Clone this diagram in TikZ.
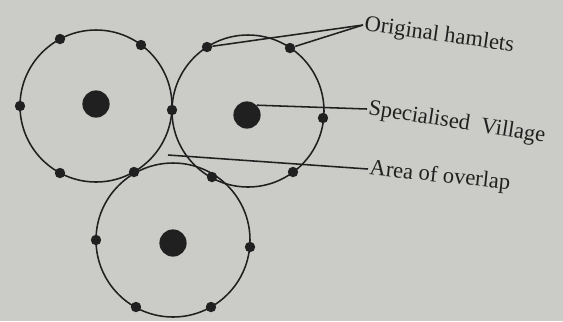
\documentclass[tikz,border=0pt]{standalone}
\usepackage{fontspec}
\setmainfont{Liberation Serif}
\definecolor{PaperGrey}{RGB}{203,203,199}
\definecolor{InkDark}{RGB}{32,32,32}

\begin{document}
\begin{tikzpicture}[x=0.25mm,y=-0.25mm,
  ring/.style={draw=InkDark,line width=1.1pt},
  hamlet/.style={circle,fill=InkDark,inner sep=0pt,minimum size=2.6mm},
  village/.style={circle,fill=InkDark,inner sep=0pt,minimum size=6.8mm},
  leader/.style={draw=InkDark,line width=1.1pt},
  tag/.style={font=\fontsize{16}{19}\selectfont,text=InkDark,inner sep=1pt,anchor=west}]
  % paper
  \path[fill=PaperGrey] (0,0) rectangle (563,321);
  % specialised villages
  \node[village] (vA) at (96,104) {};
  \node[village] (vB) at (247,115) {};
  \node[village] (vC) at (173,243) {};
  % market areas
  \draw[ring] (96,106) circle (76);
  \draw[ring] (248,111) circle (76);
  \draw[ring] (173,240) circle (77);
  % hamlets on the rings
  \node[hamlet] (a1) at (60,39) {};
  \node[hamlet] (a2) at (141,45) {};
  \node[hamlet] (a3) at (20,106) {};
  \node[hamlet] (a4) at (60,173) {};
  \node[hamlet] (ab) at (172,110) {};
  \node[hamlet] (ac) at (134,172) {};
  \node[hamlet] (b1) at (207,47) {};
  \node[hamlet] (b2) at (290,48) {};
  \node[hamlet] (b3) at (323,118) {};
  \node[hamlet] (b4) at (293,172) {};
  \node[hamlet] (bc) at (212,177) {};
  \node[hamlet] (c1) at (96,240) {};
  \node[hamlet] (c2) at (250,247) {};
  \node[hamlet] (c3) at (136,307) {};
  \node[hamlet] (c4) at (211,307) {};
  % labels
  \node[tag,rotate=-8] (hamlets) at (363,25) {Original hamlets};
  \node[tag,rotate=-9] (special) at (367,109) {Specialised\ \ Village};
  \node[tag,rotate=-6] (overlap) at (368,169) {Area of overlap};
  \coordinate (ov) at (168,155);
  % leaders
  \draw[leader] (hamlets.west) -- (b1);
  \draw[leader] (hamlets.west) -- (b2);
  \draw[leader] (vB.north east) -- (special.west);
  \draw[leader] (ov) -- (overlap.west);
\end{tikzpicture}
\end{document}
